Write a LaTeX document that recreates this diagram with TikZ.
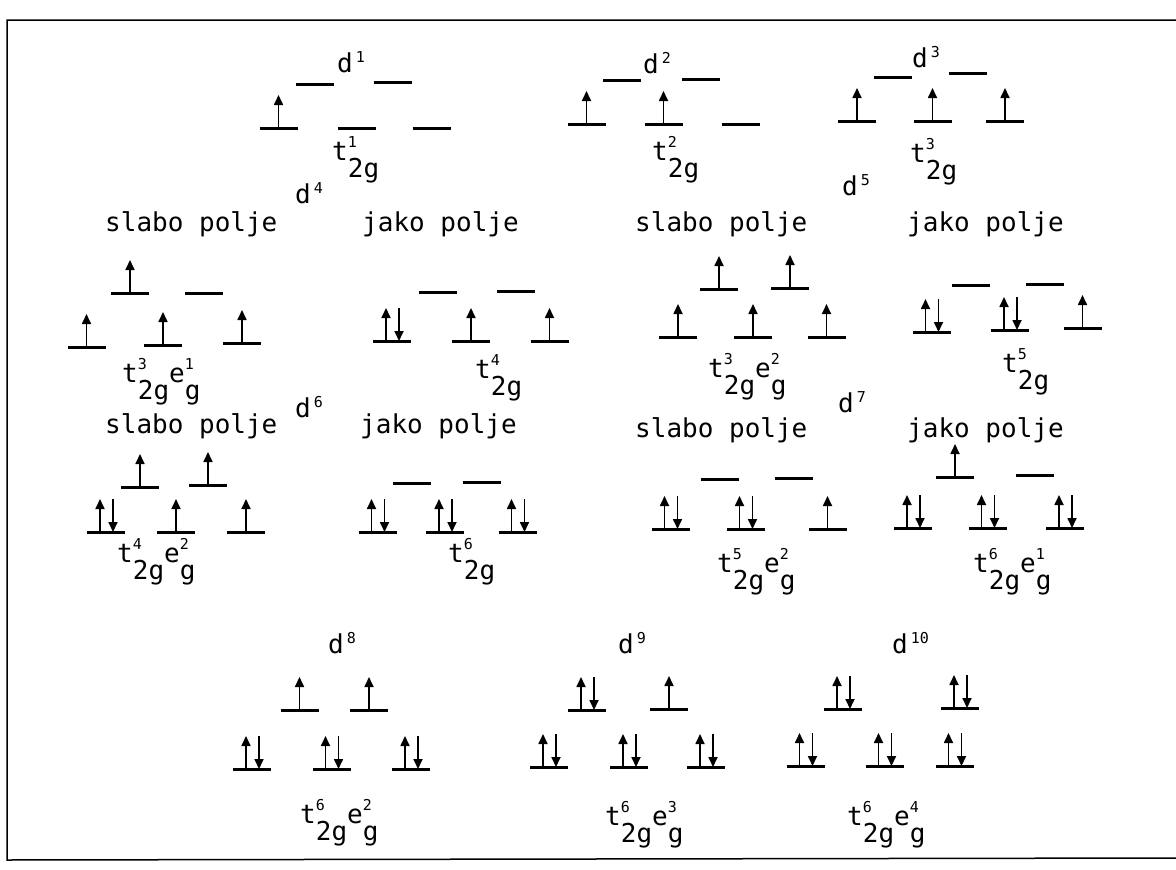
\documentclass[tikz,border=0pt]{standalone}
\usepackage{fontspec}
\newfontfamily\mono{DejaVu Sans Mono}
\usetikzlibrary{arrows.meta}
\newcommand{\upsz}{\fontsize{15}{17}\selectfont}
% t^{n}_{2g} style term
\newcommand{\cf}[3]{#1\rlap{\raisebox{13pt}{\upsz #2}}\raisebox{-17pt}{#3}}
\newcommand{\dn}[1]{d\kern3pt\raisebox{10pt}{\upsz #1}}
% orbital level: name, x, y, number of electrons
\newcommand{\orb}[4]{%
  \coordinate (#1) at (#2,#3);
  \draw[orbline] ([xshift=-19pt]#1) -- ([xshift=19pt]#1);
  \ifcase#4 \or
    \draw[elec] (#1) -- ([yshift=33pt]#1);
  \or
    \draw[elec] ([xshift=-6pt]#1) -- ([xshift=-6pt,yshift=33pt]#1);
    \draw[elec] ([xshift=7pt,yshift=33pt]#1) -- ([xshift=7pt]#1);
  \fi}
\tikzset{
  orbline/.style={line width=3pt},
  elec/.style={line width=1.7pt,-{Triangle[length=10pt,width=9pt]}},
  txt/.style={anchor=base west,inner sep=0pt,font=\mono\fontsize{26}{30}\selectfont},
  frame/.style={line width=1.5pt}
}
\begin{document}
\begin{tikzpicture}[x=1pt,y=-1pt]
\useasboundingbox[fill=white] (0,0) rectangle (1176,870);
\draw[frame] (1176,20) -- (7,20) -- (7,860) -- (1176,858);

% d1
\node[txt] (d1) at (337,72) {\dn{1}};
\orb{d1e1}{314.5}{84}{0}
\orb{d1e2}{392.5}{82}{0}
\orb{d1t1}{278.5}{128}{1}
\orb{d1t2}{356.5}{128}{0}
\orb{d1t3}{431.5}{128}{0}
\node[txt] (d1lab) at (332,160) {\cf{t}{1}{2g}};
% d2
\node[txt] (d2) at (643,73) {\dn{2}};
\orb{d2e1}{622}{80}{0}
\orb{d2e2}{700.5}{79}{0}
\orb{d2t1}{586.5}{124}{1}
\orb{d2t2}{663.5}{124}{1}
\orb{d2t3}{740.5}{124}{0}
\node[txt] (d2lab) at (652,160) {\cf{t}{2}{2g}};
% d3
\node[txt] (d3) at (912,67) {\dn{3}};
\orb{d3e1}{892.5}{77}{0}
\orb{d3e2}{967.5}{73}{0}
\orb{d3t1}{857}{121}{1}
\orb{d3t2}{932.5}{121}{1}
\orb{d3t3}{1005}{121}{1}
\node[txt] (d3lab) at (910,162) {\cf{t}{3}{2g}};

% d4
\node[txt] (d4) at (295,203) {\dn{4}};
\node[txt] (d4wtxt) at (105,231) {slabo polje};
\node[txt] (d4stxt) at (362,231) {jako polje};
\orb{d4we1}{130}{293}{1}
\orb{d4we2}{204}{293}{0}
\orb{d4wt1}{86.5}{347}{1}
\orb{d4wt2}{163}{345}{1}
\orb{d4wt3}{242}{343}{1}
\node[txt] (d4wlab) at (122,382) {\cf{t}{3}{2g}\cf{e}{1}{g}};
\orb{d4se1}{438}{292}{0}
\orb{d4se2}{516}{291}{0}
\orb{d4st1}{392}{341}{2}
\orb{d4st2}{471}{341}{1}
\orb{d4st3}{549.5}{341}{1}
\node[txt] (d4slab) at (475,378) {\cf{t}{4}{2g}};
% d5
\node[txt] (d5) at (842,195) {\dn{5}};
\node[txt] (d5wtxt) at (635,231) {slabo polje};
\node[txt] (d5stxt) at (907,231) {jako polje};
\orb{d5we1}{719}{289}{1}
\orb{d5we2}{790}{288}{1}
\orb{d5wt1}{678}{337}{1}
\orb{d5wt2}{753}{337}{1}
\orb{d5wt3}{826.5}{337}{1}
\node[txt] (d5wlab) at (708,377) {\cf{t}{3}{2g}\cf{e}{2}{g}};
\orb{d5se1}{970.5}{285}{0}
\orb{d5se2}{1045}{284}{0}
\orb{d5st1}{931.5}{332}{2}
\orb{d5st2}{1010}{330}{2}
\orb{d5st3}{1082.5}{328}{1}
\node[txt] (d5slab) at (1002,372) {\cf{t}{5}{2g}};

% d6
\node[txt] (d6) at (295,417) {\dn{6}};
\node[txt] (d6wtxt) at (105,433) {slabo polje};
\node[txt] (d6stxt) at (360,433) {jako polje};
\orb{d6we1}{140}{487}{1}
\orb{d6we2}{208}{485}{1}
\orb{d6wt1}{106}{532}{2}
\orb{d6wt2}{176}{532}{1}
\orb{d6wt3}{246}{532}{1}
\node[txt] (d6wlab) at (117,562) {\cf{t}{4}{2g}\cf{e}{2}{g}};
\orb{d6se1}{411.5}{483}{0}
\orb{d6se2}{481.5}{482}{0}
\orb{d6st1}{377.5}{532}{2}
\orb{d6st2}{445}{532}{2}
\orb{d6st3}{517.5}{532}{2}
\node[txt] (d6slab) at (448,562) {\cf{t}{6}{2g}};
% d7
\node[txt] (d7) at (838,412) {\dn{7}};
\node[txt] (d7wtxt) at (635,437) {slabo polje};
\node[txt] (d7stxt) at (907,437) {jako polje};
\orb{d7we1}{719.5}{479}{0}
\orb{d7we2}{794}{478}{0}
\orb{d7wt1}{670.5}{529}{2}
\orb{d7wt2}{745.5}{529}{2}
\orb{d7wt3}{827.5}{529}{1}
\node[txt] (d7wlab) at (717,572) {\cf{t}{5}{2g}\cf{e}{2}{g}};
\orb{d7se1}{955}{477}{1}
\orb{d7se2}{1035}{475}{0}
\orb{d7st1}{913}{528}{2}
\orb{d7st2}{987.5}{528}{2}
\orb{d7st3}{1065}{528}{2}
\node[txt] (d7slab) at (973,572) {\cf{t}{6}{2g}\cf{e}{1}{g}};

% d8 d9 d10
\node[txt] (d8) at (328,653) {\dn{8}};
\orb{d8e1}{299.5}{710}{1}
\orb{d8e2}{369}{710}{1}
\orb{d8t1}{252}{769}{2}
\orb{d8t2}{331.5}{769}{2}
\orb{d8t3}{411}{769}{2}
\node[txt] (d8lab) at (300,823) {\cf{t}{6}{2g}\cf{e}{2}{g}};
\node[txt] (d9) at (618,653) {\dn{9}};
\orb{d9e1}{587}{710}{2}
\orb{d9e2}{669}{709}{1}
\orb{d9t1}{549}{767}{2}
\orb{d9t2}{629}{767}{2}
\orb{d9t3}{706}{767}{2}
\node[txt] (d9lab) at (605,825) {\cf{t}{6}{2g}\cf{e}{3}{g}};
\node[txt] (d10) at (892,653) {\dn{10}};
\orb{d10e1}{843}{709}{2}
\orb{d10e2}{960}{708}{2}
\orb{d10t1}{805.5}{766}{2}
\orb{d10t2}{884.5}{766}{2}
\orb{d10t3}{954.5}{766}{2}
\node[txt] (d10lab) at (847,825) {\cf{t}{6}{2g}\cf{e}{4}{g}};
\end{tikzpicture}
\end{document}
